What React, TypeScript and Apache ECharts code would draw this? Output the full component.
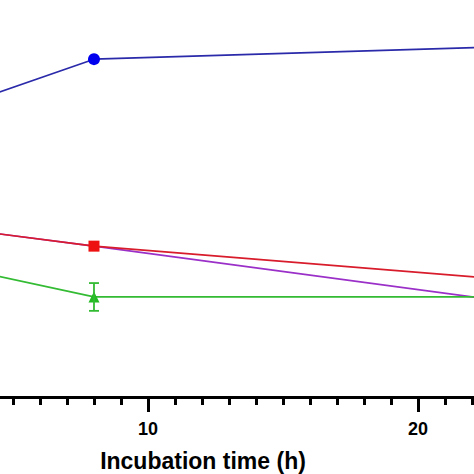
import React, { useEffect, useRef } from "react";
import * as echarts from "echarts";

const timesH = [4, 8, 24];
const blueValues = [75.6, 85.1, 88.4];
const redValues = [41.5, 38.0, 29.2];
const purpleValues = [41.5, 38.0, 23.4];
const greenValues = [31.1, 25.2, 25.2];
const greenErrors = [0, 3.5, 0];
const xTickLabels = [10, 20];
const xMinorTicks = [5, 6, 7, 8, 9, 10, 11, 12, 13, 14, 15, 16, 17, 18, 19, 20, 21, 22];
const xAxisTitle = "Incubation time (h)";

export default function App() {
  const ref = useRef<HTMLDivElement>(null);
  useEffect(() => {
    const chart = echarts.init(ref.current!, null, { renderer: "svg" });
    const pairs = (vals: number[]) => timesH.map((t, i) => [t, vals[i]]);
    const errData = timesH
      .map((t, i) => [t, greenValues[i] - greenErrors[i], greenValues[i] + greenErrors[i]])
      .filter((d, i) => greenErrors[i] > 0);
    const xMin = 4.52;
    const xMax = 22.07;
    const font = { fontWeight: "bold", color: "#000", fontFamily: "Liberation Sans" };
    chart.setOption({
      animation: false,
      grid: { left: 0, right: 0, top: 0, height: 397 },
      graphic: [
        {
          type: "text",
          x: 203,
          y: 461,
          style: {
            text: xAxisTitle,
            fontSize: 23,
            fontWeight: "bold",
            fontFamily: "Liberation Sans",
            fill: "#000",
            align: "center",
            verticalAlign: "middle",
          },
        },
      ],
      xAxis: [
        {
          type: "value",
          min: xMin,
          max: xMax,
          axisLine: { show: true, lineStyle: { color: "#000", width: 3 } },
          axisTick: { show: true, length: 15, customValues: xTickLabels, lineStyle: { color: "#000", width: 3 } },
          splitLine: { show: false },
          axisLabel: { fontSize: 18, ...font, margin: 23, customValues: xTickLabels },
        },
        {
          type: "value",
          min: xMin,
          max: xMax,
          position: "bottom",
          axisLine: { show: false },
          axisTick: { show: true, length: 8, customValues: xMinorTicks, lineStyle: { color: "#000", width: 3 } },
          splitLine: { show: false },
          axisLabel: { show: false },
        },
      ],
      yAxis: { type: "value", min: 0, max: 100, show: false },
      series: [
        {
          type: "line",
          data: pairs(purpleValues),
          symbol: "none",
          lineStyle: { color: "#9b30c8", width: 1.6 },
          z: 2,
        },
        {
          type: "line",
          data: pairs(redValues),
          symbol: "rect",
          symbolSize: 11,
          itemStyle: { color: "#ee1111" },
          lineStyle: { color: "#d81c2c", width: 1.6 },
          z: 3,
        },
        {
          type: "line",
          data: pairs(greenValues),
          symbol: "triangle",
          symbolSize: 11,
          itemStyle: { color: "#22bb22" },
          lineStyle: { color: "#33bb33", width: 1.8 },
          z: 3,
        },
        {
          type: "custom",
          data: errData,
          z: 4,
          renderItem: (params: any, api: any) => {
            const x = api.value(0);
            const lo = api.coord([x, api.value(1)]);
            const hi = api.coord([x, api.value(2)]);
            const w = 5;
            const style = { stroke: "#33bb33", lineWidth: 1.8 };
            return {
              type: "group",
              children: [
                { type: "line", shape: { x1: lo[0], y1: lo[1], x2: hi[0], y2: hi[1] }, style },
                { type: "line", shape: { x1: lo[0] - w, y1: lo[1], x2: lo[0] + w, y2: lo[1] }, style },
                { type: "line", shape: { x1: hi[0] - w, y1: hi[1], x2: hi[0] + w, y2: hi[1] }, style },
              ],
            };
          },
        },
        {
          type: "line",
          data: pairs(blueValues),
          symbol: "circle",
          symbolSize: 12,
          itemStyle: { color: "#0000ee" },
          lineStyle: { color: "#2a2aaa", width: 1.6 },
          z: 3,
        },
      ],
    });
    return () => chart.dispose();
  }, []);
  return <div ref={ref} style={{ width: 474, height: 474, position: "absolute", left: 0, top: 0 }} />;
}
